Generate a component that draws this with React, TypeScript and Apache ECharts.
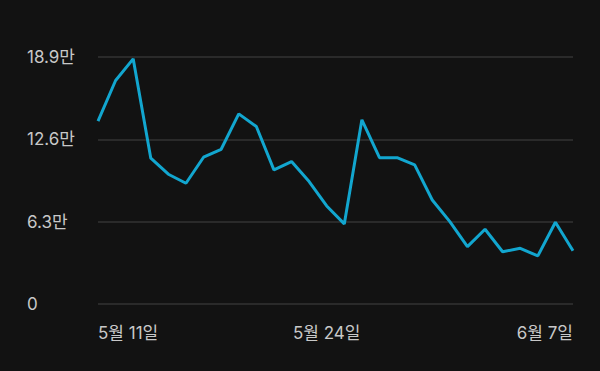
import React, { useEffect, useRef } from "react";
import * as echarts from "echarts";

const dates: string[] = [
  "5월 11일", "5월 12일", "5월 13일", "5월 14일", "5월 15일", "5월 16일", "5월 17일",
  "5월 18일", "5월 19일", "5월 20일", "5월 21일", "5월 22일", "5월 23일", "5월 24일",
  "5월 25일", "5월 26일", "5월 27일", "5월 28일", "5월 29일", "5월 30일", "5월 31일",
  "6월 1일", "6월 2일", "6월 3일", "6월 4일", "6월 5일", "6월 6일", "6월 7일",
];

// values in units of 만 (10,000)
const values: number[] = [
  14.0, 17.1, 18.76, 11.16, 9.93, 9.24, 11.23, 11.84, 14.55, 13.58, 10.26, 10.9, 9.37, 7.5,
  6.13, 14.09, 11.2, 11.2, 10.64, 7.96, 6.3, 4.39, 5.72, 4.0, 4.26, 3.68, 6.26, 4.08,
];

const shownDates: string[] = ["5월 11일", "5월 24일", "6월 7일"];
const yInterval = 6.3;
const yMax = 18.9;

export default function App() {
  const ref = useRef<HTMLDivElement>(null);
  useEffect(() => {
    if (!ref.current) return;
    const chart = echarts.init(ref.current, null, { renderer: "svg" });
    const font = "Inter, 'Noto Sans CJK KR', sans-serif";
    chart.setOption({
      animation: false,
      backgroundColor: "#121212",
      grid: { left: 98, right: 27, top: 57, bottom: 67 },
      xAxis: {
        type: "category",
        data: dates,
        boundaryGap: false,
        axisLine: { show: false },
        axisTick: { show: false },
        splitLine: { show: false },
        axisLabel: {
          interval: 0,
          color: "#c8c8c8",
          fontSize: 17,
          fontFamily: font,
          margin: 20,
          alignMinLabel: "left",
          alignMaxLabel: "right",
          formatter: (v: string) => (shownDates.includes(v) ? v : ""),
        },
      },
      yAxis: {
        type: "value",
        min: 0,
        max: yMax,
        interval: yInterval,
        axisLine: { show: false },
        axisTick: { show: false },
        splitLine: { lineStyle: { color: "#333333", width: 1.5 } },
        axisLabel: {
          color: "#c8c8c8",
          fontSize: 17,
          fontFamily: font,
          align: "left",
          margin: 71,
          formatter: (v: number) => (v === 0 ? "0" : `${Number(v.toFixed(1))}만`),
        },
      },
      series: [
        {
          type: "line",
          data: values,
          showSymbol: false,
          symbol: "none",
          lineStyle: { color: "#12a6cf", width: 3 },
          itemStyle: { color: "#12a6cf" },
        },
      ],
    });
    return () => chart.dispose();
  }, []);
  return <div ref={ref} style={{ width: 600, height: 371, position: "fixed", left: 0, top: 0 }} />;
}
